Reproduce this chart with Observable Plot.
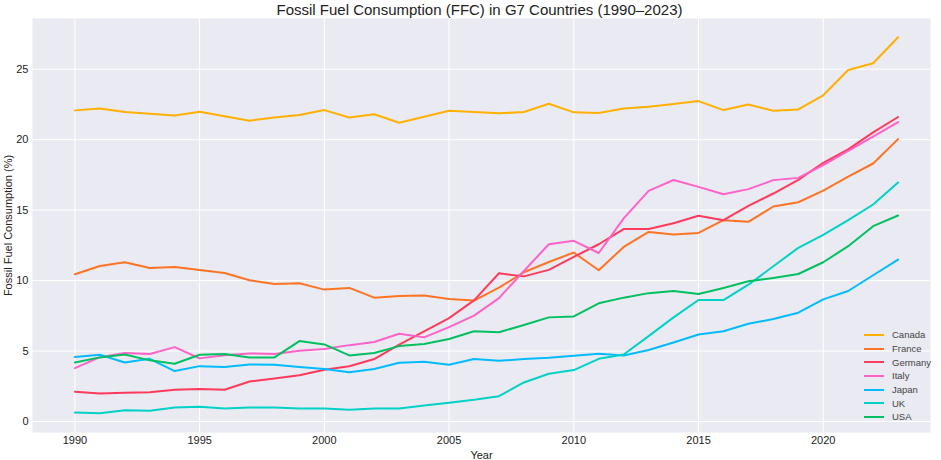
<!DOCTYPE html>
<html>
<head>
<meta charset="utf-8">
<script src="https://cdn.jsdelivr.net/npm/d3@7"></script>
<script src="https://cdn.jsdelivr.net/npm/@observablehq/plot@0.6"></script>
<style>
  body { margin: 0; background: white; font-family: "Liberation Sans", Arial, sans-serif; }
  #wrap { position: relative; width: 941px; height: 460px; }
  #title { height: 18px; line-height: 20px; font-size: 15px; text-align: center; color: #222; padding-left: 18px; }
  #legend { position: absolute; left: 864px; top: 328px; font-size: 9.5px; color: #444; }
  #legend .row { height: 13.7px; display: flex; align-items: center; }
  #legend .swatch { width: 20px; height: 2px; margin-right: 8px; }
</style>
</head>
<body>
<div id="wrap">
  <div id="title">Fossil Fuel Consumption (FFC) in G7 Countries (1990–2023)</div>
  <div id="chart"></div>
  <div id="legend"></div>
</div>
<script>
const years = [1990, 1991, 1992, 1993, 1994, 1995, 1996, 1997, 1998, 1999,
  2000, 2001, 2002, 2003, 2004, 2005, 2006, 2007, 2008, 2009,
  2010, 2011, 2012, 2013, 2014, 2015, 2016, 2017, 2018, 2019,
  2020, 2021, 2022, 2023];

const countries = ["Canada", "France", "Germany", "Italy", "Japan", "UK", "USA"];
const colors = ["#ffb000", "#ff7424", "#ff3a5c", "#ff62c8", "#00bcff", "#00d2c8", "#00c060"];

const canada = [22.08, 22.22, 21.96, 21.84, 21.72, 21.98, 21.66, 21.35, 21.58, 21.75,
  22.1, 21.58, 21.8, 21.2, 21.63, 22.05, 21.96, 21.87, 21.96, 22.55,
  21.94, 21.89, 22.22, 22.34, 22.53, 22.74, 22.1, 22.5, 22.05, 22.15,
  23.15, 24.95, 25.42, 27.27];
const france = [10.45, 11.04, 11.3, 10.9, 10.97, 10.76, 10.54, 10.02, 9.76, 9.81,
  9.36, 9.48, 8.79, 8.9, 8.95, 8.69, 8.58, 9.5, 10.59, 11.32,
  11.99, 10.73, 12.39, 13.45, 13.27, 13.38, 14.29, 14.17, 15.26, 15.56,
  16.38, 17.37, 18.31, 20.04];
const germany = [2.11, 1.99, 2.04, 2.08, 2.25, 2.3, 2.25, 2.84, 3.06, 3.29,
  3.67, 3.92, 4.43, 5.45, 6.4, 7.34, 8.6, 10.52, 10.3, 10.76,
  11.68, 12.58, 13.66, 13.66, 14.07, 14.6, 14.29, 15.3, 16.18, 17.15,
  18.36, 19.31, 20.52, 21.61];
const italy = [3.79, 4.57, 4.86, 4.79, 5.28, 4.48, 4.71, 4.83, 4.79, 5.02,
  5.14, 5.42, 5.64, 6.23, 5.97, 6.7, 7.51, 8.76, 10.68, 12.58,
  12.82, 11.96, 14.42, 16.37, 17.14, 16.65, 16.13, 16.49, 17.13, 17.29,
  18.19, 19.21, 20.21, 21.25];
const japan = [4.57, 4.74, 4.19, 4.45, 3.58, 3.93, 3.86, 4.05, 4.03, 3.86,
  3.72, 3.49, 3.72, 4.17, 4.24, 4.03, 4.43, 4.31, 4.43, 4.53,
  4.67, 4.81, 4.69, 5.07, 5.61, 6.18, 6.4, 6.94, 7.27, 7.72,
  8.67, 9.26, 10.38, 11.49];
const uk = [0.64, 0.59, 0.8, 0.76, 1.0, 1.04, 0.92, 1.0, 1.0, 0.92,
  0.92, 0.83, 0.92, 0.92, 1.14, 1.33, 1.54, 1.8, 2.77, 3.39,
  3.65, 4.45, 4.76, 6.06, 7.39, 8.62, 8.62, 9.71, 11.02, 12.32,
  13.24, 14.29, 15.4, 16.96];
const usa = [4.19, 4.55, 4.76, 4.34, 4.1, 4.74, 4.79, 4.55, 4.55, 5.71,
  5.47, 4.69, 4.86, 5.35, 5.5, 5.85, 6.4, 6.33, 6.85, 7.39,
  7.46, 8.39, 8.79, 9.11, 9.26, 9.05, 9.48, 9.95, 10.19, 10.47,
  11.3, 12.44, 13.86, 14.62];

const xTicks = [1990, 1995, 2000, 2005, 2010, 2015, 2020];
const yTicks = [0, 5, 10, 15, 20, 25];

const series = [canada, france, germany, italy, japan, uk, usa];

// long table for Plot
const rows = [];
countries.forEach((c, i) => {
  years.forEach((yr, j) => rows.push({country: c, year: yr, value: series[i][j]}));
});

const chart = Plot.plot({
  width: 941,
  height: 442,
  marginTop: 0,
  marginLeft: 32,
  marginRight: 11,
  marginBottom: 28,
  style: {fontFamily: "'Liberation Sans', Arial, sans-serif", fontSize: "11px", color: "#222", background: "white"},
  x: {domain: [1988.3, 2024.3]},
  y: {domain: [-0.78, 28.6]},
  color: {domain: countries, range: colors},
  marks: [
    Plot.frame({fill: "#eaeaf2", stroke: null}),
    Plot.gridX(xTicks, {stroke: "white", strokeOpacity: 1, strokeWidth: 1}),
    Plot.gridY(yTicks, {stroke: "white", strokeOpacity: 1, strokeWidth: 1}),
    Plot.line(rows, {x: "year", y: "value", z: "country", stroke: "country", strokeWidth: 2}),
    Plot.axisX(xTicks, {tickSize: 0, tickPadding: 4, tickFormat: d => String(d),
      label: "Year", labelAnchor: "center", labelArrow: "none", labelOffset: 26}),
    Plot.axisY(yTicks, {tickSize: 0, tickPadding: 4,
      label: "Fossil Fuel Consumption (%)", labelAnchor: "center", labelArrow: "none", labelOffset: 28})
  ]
});
document.getElementById("chart").append(chart);

const legend = document.getElementById("legend");
countries.forEach((c, i) => {
  const row = document.createElement("div");
  row.className = "row";
  row.innerHTML = `<span class="swatch" style="background:${colors[i]}"></span><span>${c}</span>`;
  legend.append(row);
});
</script>
</body>
</html>
